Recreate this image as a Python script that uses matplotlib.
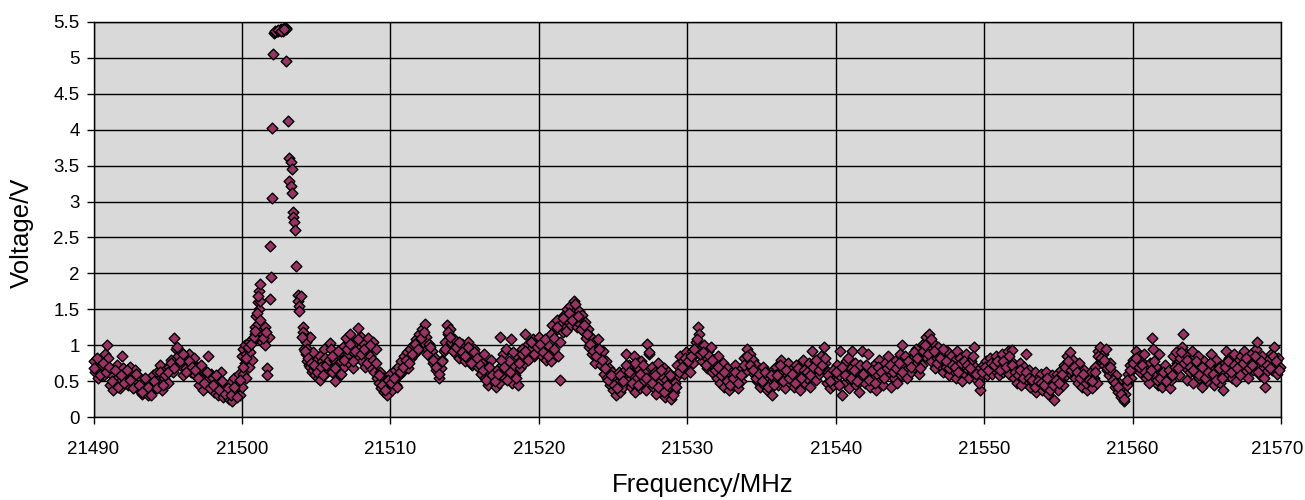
import matplotlib.pyplot as plt
from matplotlib.ticker import FormatStrFormatter
from matplotlib.transforms import ScaledTranslation

plt.rcParams['font.family'] = ['Liberation Sans', 'DejaVu Sans']

# 21490 - 21500 MHz
f_a = [21490.0, 21490.1, 21490.2, 21490.3, 21490.45, 21490.55, 21490.7, 21490.8, 21490.9, 21491.0,
       21491.1, 21491.2, 21491.3, 21491.45, 21491.55, 21491.7, 21491.8, 21491.9, 21492.0, 21492.1,
       21492.2, 21492.35, 21492.45, 21492.6, 21492.7, 21492.8, 21492.95, 21493.05, 21493.15, 21493.3,
       21493.4, 21493.5, 21493.65, 21493.75, 21493.9, 21494.0, 21494.1, 21494.25, 21494.35, 21494.5,
       21494.6, 21494.75, 21494.85, 21495.0, 21495.1, 21495.2, 21495.35, 21495.45, 21495.55, 21495.7,
       21495.8, 21495.9, 21496.05, 21496.15, 21496.25, 21496.4, 21496.5, 21496.6, 21496.75, 21496.85,
       21497.0, 21497.1, 21497.2, 21497.35, 21497.45, 21497.55, 21497.7, 21497.8, 21497.9, 21498.05,
       21498.15, 21498.25, 21498.4, 21498.5, 21498.6, 21498.75, 21498.85, 21498.95, 21499.1, 21499.2,
       21499.3, 21499.45, 21499.55, 21499.65, 21499.8, 21499.9]
v_a = [0.78, 0.62, 0.70, 0.55, 0.66, 0.72, 0.58, 0.88, 1.00, 0.82,
       0.45, 0.60, 0.38, 0.52, 0.72, 0.48, 0.40, 0.85, 0.68, 0.55,
       0.62, 0.45, 0.70, 0.58, 0.42, 0.65, 0.50, 0.38, 0.55, 0.32,
       0.48, 0.40, 0.30, 0.45, 0.35, 0.58, 0.42, 0.62, 0.50, 0.72,
       0.38, 0.55, 0.65, 0.48, 0.70, 0.80, 0.62, 1.10, 0.95, 0.85,
       0.72, 0.90, 0.58, 0.80, 0.68, 0.88, 0.75, 0.62, 0.82, 0.58,
       0.70, 0.45, 0.55, 0.38, 0.65, 0.50, 0.85, 0.42, 0.60, 0.55,
       0.35, 0.48, 0.30, 0.42, 0.62, 0.28, 0.45, 0.36, 0.25, 0.48,
       0.22, 0.55, 0.32, 0.45, 0.60, 0.30]

# 21500 - 21506 MHz, the resonance peak
f_b = [21500.0, 21500.0, 21500.1, 21500.1, 21500.2, 21500.2, 21500.3, 21500.3, 21500.45, 21500.45,
       21500.55, 21500.7, 21500.7, 21500.85, 21500.85, 21500.95, 21500.95, 21501.05, 21501.05, 21501.15,
       21501.15, 21501.25, 21501.25, 21501.35, 21501.35, 21501.45, 21501.55, 21501.55, 21501.7, 21501.7,
       21501.8, 21501.9, 21501.9, 21501.95, 21502.0, 21502.05, 21502.1, 21502.15, 21502.25, 21502.35,
       21502.45, 21502.55, 21502.65, 21502.75, 21502.85, 21502.95, 21503.0, 21503.0, 21503.1, 21503.2,
       21503.2, 21503.3, 21503.3, 21503.35, 21503.35, 21503.45, 21503.45, 21503.5, 21503.55, 21503.65,
       21503.75, 21503.75, 21503.85, 21503.85, 21503.95, 21504.1, 21504.1, 21504.2, 21504.2, 21504.3,
       21504.3, 21504.4, 21504.4, 21504.5, 21504.5, 21504.6, 21504.6, 21504.7, 21504.7, 21504.8,
       21504.8, 21504.9, 21504.9, 21505.0, 21505.0, 21505.1, 21505.1, 21505.25, 21505.25, 21505.4,
       21505.4, 21505.5, 21505.5, 21505.6, 21505.6, 21505.75, 21505.75, 21505.9, 21505.9,
       21500.05, 21500.25, 21500.4, 21500.6, 21500.8, 21500.9, 21501.0, 21501.1, 21501.2, 21501.4,
       21501.6, 21502.2, 21502.4, 21502.6, 21502.8, 21504.05, 21504.25, 21504.45, 21504.65, 21504.85,
       21505.05, 21505.3, 21505.45, 21505.65, 21505.85]
v_b = [0.42, 0.85, 0.95, 0.60, 0.75, 1.00, 0.88, 0.55, 1.05, 0.70,
       0.90, 1.08, 0.80, 1.25, 1.15, 1.40, 1.10, 1.60, 1.30, 1.75,
       1.50, 1.85, 1.62, 1.20, 1.05, 1.15, 1.25, 1.00, 0.68, 0.58,
       1.12, 2.38, 1.65, 1.95, 3.05, 4.02, 5.05, 5.35, 5.36, 5.38,
       5.37, 5.39, 5.40, 5.38, 5.41, 5.42, 4.95, 5.40, 4.12, 3.60,
       3.28, 3.55, 3.22, 3.45, 3.12, 2.85, 2.78, 2.72, 2.60, 2.10,
       1.70, 1.62, 1.55, 1.48, 1.68, 1.25, 1.18, 1.10, 0.95, 1.05,
       0.88, 0.95, 0.78, 0.85, 0.72, 1.12, 0.70, 0.82, 0.62, 0.65,
       0.90, 0.75, 0.58, 0.68, 0.80, 0.55, 0.72, 0.52, 0.85, 0.62,
       0.78, 0.70, 0.95, 0.60, 0.82, 0.75, 0.65, 1.03, 0.70,
       0.70, 0.82, 0.98, 1.02, 1.12, 1.20, 1.45, 1.68, 1.35, 1.10,
       1.18, 5.37, 5.39, 5.38, 5.40, 1.12, 0.92, 0.82, 0.75, 0.72,
       0.62, 0.70, 0.58, 0.72, 0.80]

# 21506 - 21516 MHz
f_c = [21506.0, 21506.1, 21506.2, 21506.3, 21506.4, 21506.5, 21506.6, 21506.7, 21506.8, 21506.9,
       21507.0, 21507.1, 21507.2, 21507.3, 21507.4, 21507.5, 21507.6, 21507.7, 21507.8, 21507.9,
       21508.0, 21508.1, 21508.2, 21508.3, 21508.4, 21508.5, 21508.6, 21508.7, 21508.8, 21508.9,
       21509.0, 21509.1, 21509.2, 21509.3, 21509.4, 21509.5, 21509.6, 21509.7, 21509.8, 21509.9,
       21510.0, 21510.1, 21510.2, 21510.3, 21510.4, 21510.5, 21510.6, 21510.7, 21510.8, 21510.9,
       21511.0, 21511.1, 21511.2, 21511.3, 21511.4, 21511.5, 21511.6, 21511.7, 21511.8, 21511.9,
       21512.0, 21512.1, 21512.2, 21512.3, 21512.4, 21512.5, 21512.6, 21512.7, 21512.8, 21512.9,
       21513.0, 21513.1, 21513.2, 21513.3, 21513.4, 21513.5, 21513.6, 21513.7, 21513.8, 21513.9,
       21514.0, 21514.1, 21514.2, 21514.3, 21514.4, 21514.5, 21514.6, 21514.7, 21514.8, 21514.9,
       21515.0, 21515.1, 21515.2, 21515.3, 21515.4, 21515.5, 21515.6, 21515.7, 21515.8, 21515.9]
v_c = [0.95, 0.62, 0.80, 0.50, 0.72, 0.88, 0.58, 0.78, 0.98, 0.70,
       1.10, 0.85, 0.75, 1.15, 0.92, 0.68, 1.05, 0.82, 1.24, 0.95,
       1.12, 0.78, 1.02, 0.70, 0.90, 1.10, 0.85, 0.68, 1.05, 0.62,
       0.95, 0.55, 0.48, 0.62, 0.40, 0.55, 0.35, 0.50, 0.30, 0.45,
       0.60, 0.38, 0.52, 0.65, 0.45, 0.70, 0.58, 0.78, 0.62, 0.85,
       0.72, 0.90, 0.68, 0.95, 0.82, 1.00, 0.88, 1.08, 0.92, 1.15,
       0.98, 1.22, 1.05, 1.30, 1.12, 0.95, 1.02, 0.85, 0.92, 0.75,
       0.82, 0.65, 0.72, 0.55, 0.68, 0.80, 0.92, 1.05, 1.28, 1.15,
       1.22, 1.05, 0.95, 1.08, 0.88, 1.00, 0.82, 0.95, 1.02, 0.85,
       0.78, 0.92, 1.05, 0.80, 0.88, 0.72, 0.95, 0.78, 0.85, 0.70]

# 21516 - 21526 MHz
f_d = [21516.0, 21516.1, 21516.2, 21516.3, 21516.4, 21516.5, 21516.6, 21516.7, 21516.8, 21516.9,
       21517.0, 21517.1, 21517.2, 21517.3, 21517.4, 21517.5, 21517.6, 21517.7, 21517.8, 21517.9,
       21518.0, 21518.1, 21518.2, 21518.3, 21518.4, 21518.5, 21518.6, 21518.7, 21518.8, 21518.9,
       21519.0, 21519.1, 21519.2, 21519.3, 21519.4, 21519.5, 21519.6, 21519.7, 21519.8, 21519.9,
       21520.0, 21520.1, 21520.2, 21520.3, 21520.4, 21520.5, 21520.6, 21520.7, 21520.8, 21520.9,
       21521.0, 21521.1, 21521.2, 21521.3, 21521.4, 21521.5, 21521.6, 21521.7, 21521.8, 21521.9,
       21522.0, 21522.1, 21522.2, 21522.3, 21522.4, 21522.5, 21522.6, 21522.7, 21522.8, 21522.9,
       21523.0, 21523.1, 21523.2, 21523.3, 21523.4, 21523.5, 21523.6, 21523.7, 21523.8, 21523.9,
       21524.0, 21524.1, 21524.2, 21524.3, 21524.4, 21524.5, 21524.6, 21524.7, 21524.8, 21524.9,
       21525.0, 21525.1, 21525.2, 21525.3, 21525.4, 21525.5, 21525.6, 21525.7, 21525.8, 21525.9]
v_d = [0.82, 0.60, 0.75, 0.88, 0.55, 0.68, 0.45, 0.62, 0.80, 0.50,
       0.58, 0.42, 0.65, 0.48, 1.12, 0.72, 0.88, 0.55, 0.95, 0.62,
       0.78, 1.08, 0.48, 0.70, 0.58, 0.85, 0.45, 0.68, 0.80, 0.95,
       0.75, 1.15, 0.88, 1.02, 0.82, 0.95, 1.08, 0.85, 1.00, 0.90,
       1.12, 0.95, 0.85, 1.05, 0.92, 0.80, 1.00, 0.88, 0.78, 1.28,
       0.95, 1.20, 1.35, 0.85, 0.52, 1.30, 1.18, 1.42, 1.25, 1.50,
       1.32, 1.55, 1.28, 1.45, 1.62, 1.38, 1.25, 1.48, 1.30, 1.42,
       1.20, 1.32, 1.10, 1.22, 0.98, 1.12, 0.88, 1.05, 0.75, 0.95,
       1.08, 0.85, 0.72, 0.92, 0.60, 0.78, 0.55, 0.68, 0.45, 0.62,
       0.38, 0.52, 0.30, 0.48, 0.62, 0.35, 0.55, 0.42, 0.65, 0.88]

# 21526 - 21536 MHz
f_e = [21526.0, 21526.1, 21526.2, 21526.3, 21526.4, 21526.5, 21526.6, 21526.7, 21526.8, 21526.9,
       21527.0, 21527.1, 21527.2, 21527.3, 21527.4, 21527.5, 21527.6, 21527.7, 21527.8, 21527.9,
       21528.0, 21528.1, 21528.2, 21528.3, 21528.4, 21528.5, 21528.6, 21528.7, 21528.8, 21528.9,
       21529.0, 21529.1, 21529.2, 21529.3, 21529.4, 21529.5, 21529.6, 21529.7, 21529.8, 21529.9,
       21530.0, 21530.1, 21530.2, 21530.3, 21530.4, 21530.5, 21530.6, 21530.7, 21530.8, 21530.9,
       21531.0, 21531.1, 21531.2, 21531.3, 21531.4, 21531.5, 21531.6, 21531.7, 21531.8, 21531.9,
       21532.0, 21532.1, 21532.2, 21532.3, 21532.4, 21532.5, 21532.6, 21532.7, 21532.8, 21532.9,
       21533.0, 21533.1, 21533.2, 21533.3, 21533.4, 21533.5, 21533.6, 21533.7, 21533.8, 21533.9,
       21534.0, 21534.1, 21534.2, 21534.3, 21534.4, 21534.5, 21534.6, 21534.7, 21534.8, 21534.9,
       21535.0, 21535.1, 21535.2, 21535.3, 21535.4, 21535.5, 21535.6, 21535.7, 21535.8, 21535.9]
v_e = [0.50, 0.72, 0.42, 0.60, 0.85, 0.35, 0.55, 0.68, 0.40, 0.78,
       0.50, 0.62, 0.38, 1.02, 0.88, 0.55, 0.70, 0.42, 0.62, 0.32,
       0.75, 0.48, 0.58, 0.38, 0.68, 0.28, 0.52, 0.62, 0.40, 0.25,
       0.55, 0.35, 0.48, 0.72, 0.58, 0.85, 0.65, 0.78, 0.60, 0.90,
       0.70, 0.82, 0.62, 0.92, 0.75, 0.88, 1.05, 1.25, 1.15, 0.95,
       0.78, 1.00, 0.85, 0.68, 0.92, 0.75, 0.98, 0.62, 0.80, 0.70,
       0.55, 0.85, 0.48, 0.65, 0.75, 0.42, 0.58, 0.68, 0.38, 0.52,
       0.62, 0.45, 0.72, 0.55, 0.40, 0.60, 0.50, 0.68, 0.82, 0.62,
       0.95, 0.75, 0.88, 0.68, 0.80, 0.60, 0.72, 0.50, 0.65, 0.42,
       0.58, 0.70, 0.45, 0.62, 0.38, 0.55, 0.48, 0.30, 0.65, 0.52]

# 21536 - 21546 MHz
f_f = [21536.0, 21536.1, 21536.2, 21536.3, 21536.4, 21536.5, 21536.6, 21536.7, 21536.8, 21536.9,
       21537.0, 21537.1, 21537.2, 21537.3, 21537.4, 21537.5, 21537.6, 21537.7, 21537.8, 21537.9,
       21538.0, 21538.1, 21538.2, 21538.3, 21538.4, 21538.5, 21538.6, 21538.7, 21538.8, 21538.9,
       21539.0, 21539.1, 21539.2, 21539.3, 21539.4, 21539.5, 21539.6, 21539.7, 21539.8, 21539.9,
       21540.0, 21540.1, 21540.2, 21540.3, 21540.4, 21540.5, 21540.6, 21540.7, 21540.8, 21540.9,
       21541.0, 21541.1, 21541.2, 21541.3, 21541.4, 21541.5, 21541.6, 21541.7, 21541.8, 21541.9,
       21542.0, 21542.1, 21542.2, 21542.3, 21542.4, 21542.5, 21542.6, 21542.7, 21542.8, 21542.9,
       21543.0, 21543.1, 21543.2, 21543.3, 21543.4, 21543.5, 21543.6, 21543.7, 21543.8, 21543.9,
       21544.0, 21544.1, 21544.2, 21544.3, 21544.4, 21544.5, 21544.6, 21544.7, 21544.8, 21544.9,
       21545.0, 21545.1, 21545.2, 21545.3, 21545.4, 21545.5, 21545.6, 21545.7, 21545.8, 21545.9]
v_f = [0.70, 0.45, 0.62, 0.80, 0.52, 0.68, 0.40, 0.58, 0.75, 0.48,
       0.65, 0.55, 0.42, 0.72, 0.50, 0.62, 0.38, 0.58, 0.80, 0.48,
       0.68, 0.55, 0.75, 0.42, 0.92, 0.62, 0.78, 0.52, 0.70, 0.60,
       0.85, 0.68, 0.98, 0.75, 0.48, 0.62, 0.40, 0.55, 0.45, 0.60,
       0.50, 0.72, 0.58, 0.92, 0.30, 0.65, 0.48, 0.78, 0.55, 0.40,
       0.68, 0.92, 0.52, 0.75, 0.45, 0.62, 0.35, 0.58, 0.92, 0.70,
       0.48, 0.62, 0.88, 0.42, 0.68, 0.55, 0.72, 0.38, 0.60, 0.80,
       0.50, 0.68, 0.45, 0.75, 0.58, 0.85, 0.62, 0.42, 0.70, 0.55,
       0.78, 0.48, 0.65, 0.88, 0.58, 1.00, 0.72, 0.82, 0.55, 0.68,
       0.78, 0.62, 0.85, 0.70, 0.95, 0.75, 0.60, 0.88, 0.72, 1.02]

# 21546 - 21556 MHz
f_g = [21546.0, 21546.1, 21546.2, 21546.3, 21546.4, 21546.5, 21546.6, 21546.7, 21546.8, 21546.9,
       21547.0, 21547.1, 21547.2, 21547.3, 21547.4, 21547.5, 21547.6, 21547.7, 21547.8, 21547.9,
       21548.0, 21548.1, 21548.2, 21548.3, 21548.4, 21548.5, 21548.6, 21548.7, 21548.8, 21548.9,
       21549.0, 21549.1, 21549.2, 21549.3, 21549.4, 21549.5, 21549.6, 21549.7, 21549.8, 21549.9,
       21550.0, 21550.1, 21550.2, 21550.3, 21550.4, 21550.5, 21550.6, 21550.7, 21550.8, 21550.9,
       21551.0, 21551.1, 21551.2, 21551.3, 21551.4, 21551.5, 21551.6, 21551.7, 21551.8, 21551.9,
       21552.0, 21552.1, 21552.2, 21552.3, 21552.4, 21552.5, 21552.6, 21552.7, 21552.8, 21552.9,
       21553.0, 21553.1, 21553.2, 21553.3, 21553.4, 21553.5, 21553.6, 21553.7, 21553.8, 21553.9,
       21554.0, 21554.1, 21554.2, 21554.3, 21554.4, 21554.5, 21554.6, 21554.7, 21554.8, 21554.9,
       21555.0, 21555.1, 21555.2, 21555.3, 21555.4, 21555.5, 21555.6, 21555.7, 21555.8, 21555.9]
v_g = [0.85, 1.12, 0.95, 1.15, 0.78, 1.05, 0.90, 0.68, 0.82, 0.98,
       0.72, 0.88, 0.62, 0.80, 0.70, 0.92, 0.58, 0.75, 0.85, 0.65,
       0.78, 0.55, 0.92, 0.68, 0.82, 0.50, 0.72, 0.60, 0.88, 0.65,
       0.55, 0.78, 0.62, 0.98, 0.70, 0.52, 0.65, 0.38, 0.58, 0.72,
       0.62, 0.78, 0.58, 0.70, 0.82, 0.60, 0.75, 0.65, 0.85, 0.68,
       0.58, 0.72, 0.88, 0.62, 0.80, 0.70, 0.92, 0.60, 0.78, 0.93,
       0.55, 0.68, 0.48, 0.62, 0.75, 0.45, 0.58, 0.70, 0.88, 0.52,
       0.65, 0.42, 0.58, 0.48, 0.62, 0.35, 0.55, 0.45, 0.60, 0.38,
       0.52, 0.42, 0.62, 0.32, 0.50, 0.40, 0.58, 0.23, 0.48, 0.60,
       0.38, 0.52, 0.65, 0.45, 0.72, 0.58, 0.85, 0.62, 0.90, 0.70]

# 21556 - 21570 MHz
f_h = [21556.0, 21556.1, 21556.2, 21556.3, 21556.4, 21556.5, 21556.6, 21556.7, 21556.8, 21556.9,
       21557.0, 21557.1, 21557.2, 21557.3, 21557.4, 21557.5, 21557.6, 21557.7, 21557.8, 21557.9,
       21558.0, 21558.1, 21558.2, 21558.3, 21558.4, 21558.5, 21558.6, 21558.7, 21558.8, 21558.9,
       21559.0, 21559.1, 21559.2, 21559.3, 21559.4, 21559.5, 21559.6, 21559.7, 21559.8, 21559.9,
       21560.0, 21560.1, 21560.2, 21560.3, 21560.4, 21560.5, 21560.6, 21560.7, 21560.8, 21560.9,
       21561.0, 21561.1, 21561.2, 21561.3, 21561.4, 21561.5, 21561.6, 21561.7, 21561.8, 21561.9,
       21562.0, 21562.1, 21562.2, 21562.3, 21562.4, 21562.5, 21562.6, 21562.7, 21562.8, 21562.9,
       21563.0, 21563.1, 21563.2, 21563.3, 21563.4, 21563.5, 21563.6, 21563.7, 21563.8, 21563.9,
       21564.0, 21564.1, 21564.2, 21564.3, 21564.4, 21564.5, 21564.6, 21564.7, 21564.8, 21564.9,
       21565.0, 21565.1, 21565.2, 21565.3, 21565.4, 21565.5, 21565.6, 21565.7, 21565.8, 21565.9,
       21566.0, 21566.1, 21566.2, 21566.3, 21566.4, 21566.5, 21566.6, 21566.7, 21566.8, 21566.9,
       21567.0, 21567.1, 21567.2, 21567.3, 21567.4, 21567.5, 21567.6, 21567.7, 21567.8, 21567.9,
       21568.0, 21568.1, 21568.2, 21568.3, 21568.4, 21568.5, 21568.6, 21568.7, 21568.8, 21568.9,
       21569.0, 21569.1, 21569.2, 21569.3, 21569.4, 21569.5, 21569.6, 21569.7, 21569.8, 21569.9]
v_h = [0.80, 0.55, 0.68, 0.48, 0.75, 0.60, 0.42, 0.65, 0.52, 0.38,
       0.58, 0.45, 0.62, 0.40, 0.55, 0.70, 0.48, 0.92, 0.98, 0.78,
       0.88, 0.72, 0.95, 0.65, 0.58, 0.75, 0.62, 0.50, 0.42, 0.58,
       0.35, 0.48, 0.28, 0.40, 0.22, 0.32, 0.45, 0.60, 0.72, 0.55,
       0.80, 0.68, 0.92, 0.75, 0.85, 0.62, 0.78, 0.70, 0.88, 0.55,
       0.68, 0.48, 0.75, 1.10, 0.95, 0.58, 0.70, 0.45, 0.88, 0.62,
       0.42, 0.55, 0.72, 0.48, 0.60, 0.40, 0.52, 0.85, 0.65, 0.90,
       0.75, 0.58, 0.82, 0.98, 1.15, 0.70, 0.88, 0.52, 0.78, 0.62,
       0.92, 0.48, 0.72, 0.60, 0.85, 0.55, 0.68, 0.42, 0.78, 0.62,
       0.50, 0.72, 0.58, 0.88, 0.65, 0.45, 0.80, 0.55, 0.70, 0.48,
       0.62, 0.38, 0.75, 0.92, 0.58, 0.82, 0.68, 0.55, 0.88, 0.65,
       0.50, 0.78, 0.60, 0.85, 0.70, 0.92, 0.62, 0.80, 0.55, 0.75,
       0.88, 0.65, 0.78, 0.95, 1.05, 0.72, 0.58, 0.85, 0.68, 0.42,
       0.62, 0.80, 0.70, 0.88, 0.65, 0.98, 0.75, 0.60, 0.82, 0.70]

# second sweep, read between the first one (outside the peak)
f_s = [21490.05, 21490.25, 21490.45, 21490.65, 21490.85, 21491.05, 21491.25, 21491.45, 21491.65, 21491.85,
       21492.05, 21492.25, 21492.45, 21492.65, 21492.85, 21493.05, 21493.25, 21493.45, 21493.65, 21493.85,
       21494.05, 21494.25, 21494.45, 21494.65, 21494.85, 21495.05, 21495.25, 21495.45, 21495.65, 21495.85,
       21496.05, 21496.25, 21496.45, 21496.65, 21496.85, 21497.05, 21497.25, 21497.45, 21497.65, 21497.85,
       21498.05, 21498.25, 21498.45, 21498.65, 21498.85, 21499.05, 21499.25, 21499.45, 21499.65, 21499.85,
       21506.05, 21506.25, 21506.45, 21506.65, 21506.85, 21507.05, 21507.25, 21507.45, 21507.65, 21507.85,
       21508.05, 21508.25, 21508.45, 21508.65, 21508.85, 21509.05, 21509.25, 21509.45, 21509.65, 21509.85,
       21510.05, 21510.25, 21510.45, 21510.65, 21510.85, 21511.05, 21511.25, 21511.45, 21511.65, 21511.85,
       21512.05, 21512.25, 21512.45, 21512.65, 21512.85, 21513.05, 21513.25, 21513.45, 21513.65, 21513.85,
       21514.05, 21514.25, 21514.45, 21514.65, 21514.85, 21515.05, 21515.25, 21515.45, 21515.65, 21515.85,
       21516.05, 21516.25, 21516.45, 21516.65, 21516.85, 21517.05, 21517.25, 21517.45, 21517.65, 21517.85,
       21518.05, 21518.25, 21518.45, 21518.65, 21518.85, 21519.05, 21519.25, 21519.45, 21519.65, 21519.85,
       21520.05, 21520.25, 21520.45, 21520.65, 21520.85, 21521.05, 21521.25, 21521.45, 21521.65, 21521.85,
       21522.05, 21522.25, 21522.45, 21522.65, 21522.85, 21523.05, 21523.25, 21523.45, 21523.65, 21523.85,
       21524.05, 21524.25, 21524.45, 21524.65, 21524.85, 21525.05, 21525.25, 21525.45, 21525.65, 21525.85,
       21526.05, 21526.25, 21526.45, 21526.65, 21526.85, 21527.05, 21527.25, 21527.45, 21527.65, 21527.85,
       21528.05, 21528.25, 21528.45, 21528.65, 21528.85, 21529.05, 21529.25, 21529.45, 21529.65, 21529.85,
       21530.05, 21530.25, 21530.45, 21530.65, 21530.85, 21531.05, 21531.25, 21531.45, 21531.65, 21531.85,
       21532.05, 21532.25, 21532.45, 21532.65, 21532.85, 21533.05, 21533.25, 21533.45, 21533.65, 21533.85,
       21534.05, 21534.25, 21534.45, 21534.65, 21534.85, 21535.05, 21535.25, 21535.45, 21535.65, 21535.85,
       21536.05, 21536.25, 21536.45, 21536.65, 21536.85, 21537.05, 21537.25, 21537.45, 21537.65, 21537.85,
       21538.05, 21538.25, 21538.45, 21538.65, 21538.85, 21539.05, 21539.25, 21539.45, 21539.65, 21539.85,
       21540.05, 21540.25, 21540.45, 21540.65, 21540.85, 21541.05, 21541.25, 21541.45, 21541.65, 21541.85,
       21542.05, 21542.25, 21542.45, 21542.65, 21542.85, 21543.05, 21543.25, 21543.45, 21543.65, 21543.85,
       21544.05, 21544.25, 21544.45, 21544.65, 21544.85, 21545.05, 21545.25, 21545.45, 21545.65, 21545.85,
       21546.05, 21546.25, 21546.45, 21546.65, 21546.85, 21547.05, 21547.25, 21547.45, 21547.65, 21547.85,
       21548.05, 21548.25, 21548.45, 21548.65, 21548.85, 21549.05, 21549.25, 21549.45, 21549.65, 21549.85,
       21550.05, 21550.25, 21550.45, 21550.65, 21550.85, 21551.05, 21551.25, 21551.45, 21551.65, 21551.85,
       21552.05, 21552.25, 21552.45, 21552.65, 21552.85, 21553.05, 21553.25, 21553.45, 21553.65, 21553.85,
       21554.05, 21554.25, 21554.45, 21554.65, 21554.85, 21555.05, 21555.25, 21555.45, 21555.65, 21555.85,
       21556.05, 21556.25, 21556.45, 21556.65, 21556.85, 21557.05, 21557.25, 21557.45, 21557.65, 21557.85,
       21558.05, 21558.25, 21558.45, 21558.65, 21558.85, 21559.05, 21559.25, 21559.45, 21559.65, 21559.85,
       21560.05, 21560.25, 21560.45, 21560.65, 21560.85, 21561.05, 21561.25, 21561.45, 21561.65, 21561.85,
       21562.05, 21562.25, 21562.45, 21562.65, 21562.85, 21563.05, 21563.25, 21563.45, 21563.65, 21563.85,
       21564.05, 21564.25, 21564.45, 21564.65, 21564.85, 21565.05, 21565.25, 21565.45, 21565.65, 21565.85,
       21566.05, 21566.25, 21566.45, 21566.65, 21566.85, 21567.05, 21567.25, 21567.45, 21567.65, 21567.85,
       21568.05, 21568.25, 21568.45, 21568.65, 21568.85, 21569.05, 21569.25, 21569.45, 21569.65, 21569.85]
v_s = [0.68, 0.82, 0.58, 0.75, 0.62, 0.70, 0.50, 0.65, 0.42, 0.58,
       0.48, 0.66, 0.52, 0.40, 0.60, 0.45, 0.35, 0.55, 0.42, 0.30,
       0.50, 0.40, 0.62, 0.45, 0.58, 0.62, 0.75, 0.68, 0.98, 0.78,
       0.88, 0.62, 0.78, 0.70, 0.65, 0.55, 0.72, 0.48, 0.62, 0.40,
       0.45, 0.58, 0.38, 0.50, 0.32, 0.40, 0.30, 0.42, 0.28, 0.52,
       0.85, 0.68, 0.92, 0.60, 0.80, 0.95, 1.02, 0.78, 0.92, 1.08,
       0.88, 0.95, 0.75, 1.00, 0.80, 0.75, 0.58, 0.45, 0.38, 0.52,
       0.48, 0.55, 0.42, 0.62, 0.70, 0.80, 0.75, 0.88, 1.02, 0.95,
       1.10, 1.18, 0.88, 0.98, 0.80, 0.70, 0.60, 0.78, 0.95, 1.18,
       1.12, 0.92, 0.98, 1.05, 0.90, 0.85, 0.98, 0.75, 0.90, 0.82,
       0.72, 0.65, 0.52, 0.70, 0.58, 0.50, 0.60, 0.80, 0.70, 0.52,
       0.62, 0.90, 0.55, 0.75, 0.88, 0.92, 0.80, 1.05, 0.88, 0.98,
       1.02, 0.90, 1.08, 0.85, 1.15, 1.10, 1.25, 1.05, 1.38, 1.20,
       1.45, 1.35, 1.58, 1.40, 1.22, 1.28, 1.15, 1.02, 0.92, 0.85,
       0.95, 0.80, 0.68, 0.52, 0.58, 0.45, 0.40, 0.58, 0.50, 0.72,
       0.62, 0.48, 0.75, 0.45, 0.60, 0.72, 0.55, 0.90, 0.48, 0.58,
       0.42, 0.65, 0.35, 0.45, 0.58, 0.30, 0.42, 0.62, 0.70, 0.82,
       0.78, 0.85, 0.95, 1.08, 0.88, 0.90, 0.72, 0.85, 0.80, 0.65,
       0.70, 0.58, 0.62, 0.50, 0.45, 0.55, 0.62, 0.48, 0.58, 0.72,
       0.85, 0.72, 0.65, 0.55, 0.60, 0.50, 0.62, 0.42, 0.58, 0.45,
       0.58, 0.72, 0.50, 0.65, 0.55, 0.60, 0.48, 0.68, 0.55, 0.65,
       0.62, 0.58, 0.70, 0.80, 0.65, 0.72, 0.82, 0.58, 0.50, 0.65,
       0.62, 0.45, 0.70, 0.58, 0.82, 0.55, 0.65, 0.50, 0.72, 0.60,
       0.72, 0.52, 0.65, 0.48, 0.70, 0.62, 0.55, 0.68, 0.72, 0.62,
       0.68, 0.75, 0.62, 0.85, 0.78, 0.70, 0.90, 0.82, 0.68, 0.92,
       1.00, 0.88, 1.08, 0.92, 0.75, 0.82, 0.95, 0.78, 0.68, 0.72,
       0.70, 0.62, 0.75, 0.78, 0.72, 0.68, 0.85, 0.60, 0.48, 0.62,
       0.70, 0.65, 0.75, 0.72, 0.78, 0.65, 0.78, 0.70, 0.85, 0.72,
       0.62, 0.58, 0.65, 0.55, 0.62, 0.55, 0.52, 0.42, 0.50, 0.48,
       0.45, 0.55, 0.38, 0.45, 0.52, 0.48, 0.60, 0.70, 0.78, 0.65,
       0.70, 0.62, 0.55, 0.60, 0.48, 0.52, 0.50, 0.62, 0.85, 0.82,
       0.80, 0.68, 0.70, 0.52, 0.48, 0.42, 0.32, 0.25, 0.52, 0.65,
       0.75, 0.82, 0.70, 0.72, 0.62, 0.58, 0.65, 0.78, 0.52, 0.55,
       0.62, 0.50, 0.65, 0.58, 0.70, 0.68, 0.90, 0.75, 0.80, 0.70,
       0.65, 0.78, 0.58, 0.70, 0.55, 0.62, 0.75, 0.60, 0.52, 0.68,
       0.55, 0.70, 0.78, 0.62, 0.72, 0.68, 0.58, 0.75, 0.82, 0.68,
       0.72, 0.85, 0.62, 0.78, 0.55, 0.72, 0.68, 0.85, 0.78, 0.65]

freq = f_a + f_b + f_c + f_d + f_e + f_f + f_g + f_h + f_s
volt = v_a + v_b + v_c + v_d + v_e + v_f + v_g + v_h + v_s

x_ticks = [21490, 21500, 21510, 21520, 21530, 21540, 21550, 21560, 21570]
y_ticks = [0, 0.5, 1, 1.5, 2, 2.5, 3, 3.5, 4, 4.5, 5, 5.5]

fig = plt.figure(figsize=(13.05, 5), dpi=100)
ax = fig.add_axes([93.5 / 1305, 83 / 500, 1187.5 / 1305, 395 / 500])
ax.set_facecolor('#d9d9d9')

ax.scatter(freq, volt, marker='D', s=30, c='#993366', edgecolors='black',
           linewidths=1.0, zorder=3, clip_on=False)

ax.set_xlim(21490, 21570)
ax.set_ylim(0, 5.5)
ax.set_xticks(x_ticks)
ax.set_yticks(y_ticks)
ax.yaxis.set_major_formatter(FormatStrFormatter('%g'))
ax.grid(True, color='black', linewidth=1.0)
ax.set_axisbelow(True)
for s in ax.spines.values():
    s.set_color('black')
    s.set_linewidth(1.0)
ax.tick_params(direction='out', length=5, width=1.0, labelsize=13.5)
ax.tick_params(axis='x', pad=12)
ax.tick_params(axis='y', pad=5)

# the last x label sits against the right edge of the picture
last = ax.get_xticklabels()[-1]
last.set_transform(last.get_transform() + ScaledTranslation(-4 / 100, 0, fig.dpi_scale_trans))

fig.text(703 / 1305, 1 - 485 / 500, 'Frequency/MHz', fontsize=18.5,
         ha='center', va='center')
fig.text(22 / 1305, 1 - 233 / 500, 'Voltage/V', fontsize=18.5,
         rotation=90, ha='center', va='center')

fig.savefig('out.png', dpi=100)
